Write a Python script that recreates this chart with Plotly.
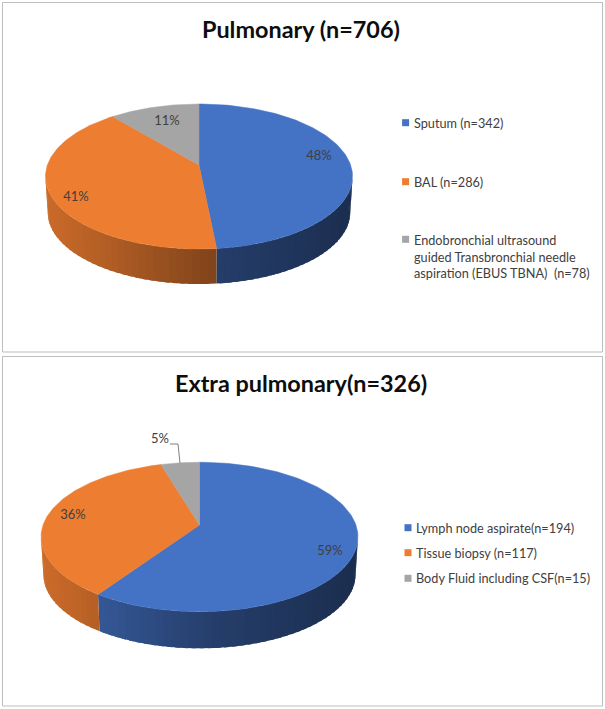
import numpy as np
import plotly.graph_objects as go

# ---- data ----
pulm_title = "Pulmonary (n=706)"
pulm_values = [342, 286, 78]
pulm_pct = ["48%", "41%", "11%"]
pulm_legend = ["Sputum (n=342)", "BAL (n=286)",
               "Endobronchial ultrasound<br>guided Transbronchial needle<br>aspiration (EBUS TBNA)  (n=78)"]

extra_title = "Extra pulmonary(n=326)"
extra_values = [194, 117, 15]
extra_pct = ["59%", "36%", "5%"]
extra_legend = ["Lymph node aspirate(n=194)", "Tissue biopsy (n=117)", "Body Fluid including CSF(n=15)"]

# ---- style ----
COLORS = [(0x44, 0x72, 0xC4), (0xED, 0x7D, 0x31), (0xA5, 0xA5, 0xA5)]
FONT = "Lato"
TXT = "#404040"
W, H = 605, 709
SHADE_X = [40, 100, 216, 358]
SHADE_V = [0.86, 0.76, 0.54, 0.40]


def rgb(c, f=1.0):
    return "rgb(%d,%d,%d)" % tuple(int(round(v * f)) for v in c)


fig = go.Figure()


def project(theta, g, lower=False):
    """Perspective projection of a unit-circle point, theta clockwise from top."""
    u, v = np.sin(theta), np.cos(theta)
    w = 1 + g["k"] * v
    s = g["s"] if lower else 1.0
    yc = g["yc2"] if lower else g["yc"]
    return g["xc"] + s * g["a"] * u / w, yc - s * g["b"] * v / w


def poly(x, y, color, lw=0.0):
    x, y = list(x), list(y)
    fig.add_trace(go.Scatter(x=x + x[:1], y=y + y[:1], mode="lines", fill="toself",
                             fillcolor=color, line=dict(color=color, width=lw),
                             hoverinfo="skip", showlegend=False))


def pie3d(values, g):
    total = sum(values)
    edges = 2 * np.pi * np.cumsum([0] + list(values)) / total
    vis0, vis1 = np.arccos(-g["k"]), 2 * np.pi - np.arccos(-g["k"])
    # side wall as strips so it can carry the shading; each strip runs under the next one
    for i in range(len(values)):
        lo, hi = max(edges[i], vis0), min(edges[i + 1], vis1)
        if hi <= lo:
            continue
        n = max(2, int((hi - lo) / np.radians(2.5)) + 1)
        t = np.linspace(lo, hi, n)
        for t0, t1 in zip(t[:-1], t[1:]):
            f = float(np.interp(project((t0 + t1) / 2, g)[0], SHADE_X, SHADE_V))
            tt = np.linspace(t0, min(t1 + np.radians(1.5), hi), 5)
            xt, yt = project(tt, g)
            xb, yb = project(tt[::-1], g, lower=True)
            poly(np.r_[xt, xb], np.r_[yt, yb], rgb(COLORS[i], f))
    # top face
    for i in range(len(values)):
        t = np.linspace(edges[i], edges[i + 1], 120)
        x, y = project(t, g)
        poly(np.r_[g["xc"], x], np.r_[g["yc"], y], rgb(COLORS[i]), 0.5)


GEOM1 = dict(xc=199, yc=165, yc2=201.3, a=151.6, b=70.7, k=0.1586, s=0.985)
GEOM2 = dict(xc=199.5, yc=525, yc2=562.9, a=156.4, b=72.8, k=0.1606, s=0.985)

pie3d(pulm_values, GEOM1)
pie3d(extra_values, GEOM2)

# leader line for the small slice
fig.add_trace(go.Scatter(x=[170, 178, 180], y=[444, 444, 463], mode="lines",
                         line=dict(color="#7f7f7f", width=1), hoverinfo="skip", showlegend=False))

# data labels
LABEL_XY1 = [(319, 157), (76, 198), (167, 122)]
LABEL_XY2 = [(330, 552), (73, 516), (160, 440)]
for pct, xy in ((pulm_pct, LABEL_XY1), (extra_pct, LABEL_XY2)):
    fig.add_trace(go.Scatter(x=[p[0] for p in xy], y=[p[1] for p in xy], text=pct,
                             mode="text", textposition="middle center",
                             textfont=dict(family=FONT, size=13, color=TXT),
                             hoverinfo="skip", showlegend=False))

# legends
annotations = []
LEG1 = dict(mx=405.6, tx=411.5, ys=[122.7, 181.7, 256])
LEG2 = dict(mx=408, tx=414, ys=[527.7, 552.7, 578.3])
MARK1_Y = [122.7, 181.7, 239.3]
for labels, leg, my in ((pulm_legend, LEG1, MARK1_Y), (extra_legend, LEG2, LEG2["ys"])):
    fig.add_trace(go.Scatter(x=[leg["mx"]] * 3, y=my, mode="markers",
                             marker=dict(symbol="square", size=7, color=[rgb(c) for c in COLORS], line=dict(width=0)),
                             hoverinfo="skip", showlegend=False))
    for lab, y in zip(labels, leg["ys"]):
        annotations.append(dict(x=leg["tx"], y=y, xref="x", yref="y", text=lab, showarrow=False,
                                xanchor="left", yanchor="middle", align="left",
                                font=dict(family=FONT, size=12.7, color=TXT)))

for title, y in ((pulm_title, 29), (extra_title, 383)):
    annotations.append(dict(x=301, y=y, xref="x", yref="y", text="<b>%s</b>" % title, showarrow=False,
                            xanchor="center", yanchor="middle",
                            font=dict(family=FONT, size=23.4, color="#0d0d0d")))

# panel frames
shapes = [dict(type="rect", xref="x", yref="y", x0=2.5, x1=602.5, y0=y0, y1=y1,
               line=dict(color="#bdbdbd", width=1), layer="below")
          for y0, y1 in ((2.5, 352), (356.5, 706))]

fig.update_layout(width=W, height=H, margin=dict(l=0, r=0, t=0, b=0),
                  paper_bgcolor="white", plot_bgcolor="white", showlegend=False,
                  annotations=annotations, shapes=shapes,
                  xaxis=dict(range=[0, W], visible=False, fixedrange=True),
                  yaxis=dict(range=[H, 0], visible=False, fixedrange=True))

fig.write_html("out.html", post_script="document.body.style.margin='0';", config={"displayModeBar": False})
